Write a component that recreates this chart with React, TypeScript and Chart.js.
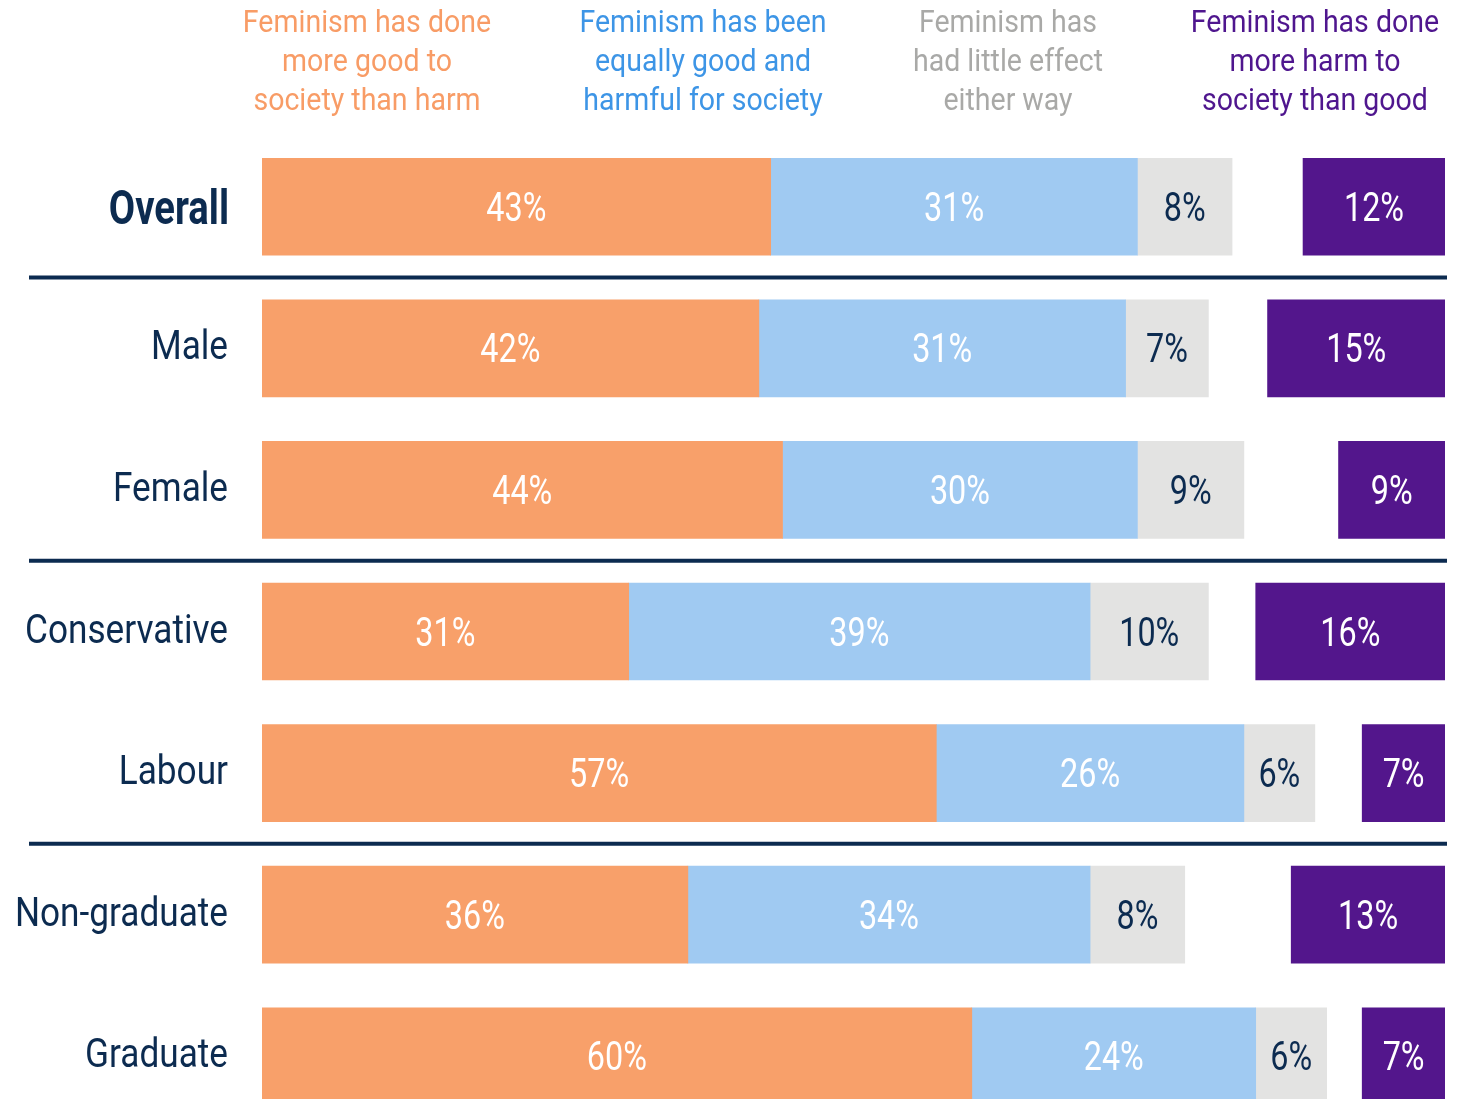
import { useEffect, useRef } from 'react';
import { Chart, registerables } from 'chart.js';

Chart.register(...registerables);

const categories = ['Overall', 'Male', 'Female', 'Conservative', 'Labour', 'Non-graduate', 'Graduate'];
const moreGood = [43, 42, 44, 31, 57, 36, 60];
const equallyGood = [31, 31, 30, 39, 26, 34, 24];
const littleEffect = [8, 7, 9, 10, 6, 8, 6];
const moreHarm = [12, 15, 9, 16, 7, 13, 7];
const seriesNames = [
  'Feminism has done more good to society than harm',
  'Feminism has been equally good and harmful for society',
  'Feminism has had little effect either way',
  'Feminism has done more harm to society than good',
];
const headerLines = [
  ['Feminism has done', 'more good to', 'society than harm'],
  ['Feminism has been', 'equally good and', 'harmful for society'],
  ['Feminism has', 'had little effect', 'either way'],
  ['Feminism has done', 'more harm to', 'society than good'],
];
const separatorsAfter = [0, 2, 4];
const scaleMax = 100;

const FONT = "Roboto, 'Liberation Sans', sans-serif";
const NAVY = '#0C2B50';
const barColors = ['#F8A06A', '#A0CAF2', '#E3E3E2', '#53168C'];
const headerColors = ['#F89C66', '#3D95E6', '#A9A9A7', '#4F168E'];
const labelColors = ['#FFFFFF', '#FFFFFF', NAVY, '#FFFFFF'];
const headerCenters = [367, 703, 1008, 1315];

const W = 1463;
const H = 1140;

function drawText(ctx: CanvasRenderingContext2D, text: string, x: number, y: number, font: string, sx: number, align: CanvasTextAlign, color: string) {
  ctx.save();
  ctx.translate(x, y);
  ctx.scale(sx, 1);
  ctx.font = font;
  ctx.textAlign = align;
  ctx.textBaseline = 'alphabetic';
  ctx.fillStyle = color;
  ctx.fillText(text, 0, 0);
  ctx.restore();
}

export default function App() {
  const ref = useRef<HTMLCanvasElement | null>(null);

  useEffect(() => {
    if (!ref.current) return;
    const gap = categories.map((_, i) => scaleMax - (moreGood[i] + equallyGood[i] + littleEffect[i] + moreHarm[i]));

    const mk = (label: string, data: number[], color: string, idx: number) => ({
      label,
      data,
      backgroundColor: color,
      borderWidth: 0,
      barThickness: 97,
      seriesIndex: idx,
    });

    const datasets: any[] = [
      mk(seriesNames[0], moreGood, barColors[0], 0),
      mk(seriesNames[1], equallyGood, barColors[1], 1),
      mk(seriesNames[2], littleEffect, barColors[2], 2),
      { label: 'gap', data: gap, backgroundColor: 'rgba(0,0,0,0)', borderWidth: 0, barThickness: 97, seriesIndex: -1 },
      mk(seriesNames[3], moreHarm, barColors[3], 3),
    ];

    const overlay = {
      id: 'overlay',
      afterDatasetsDraw(chart: any) {
        const ctx: CanvasRenderingContext2D = chart.ctx;
        // value labels
        chart.data.datasets.forEach((ds: any, di: number) => {
          if (ds.seriesIndex < 0) return;
          const meta = chart.getDatasetMeta(di);
          meta.data.forEach((el: any, i: number) => {
            const p = el.getCenterPoint();
            drawText(ctx, `${ds.data[i]}%`, p.x, p.y + 14, `40px ${FONT}`, 0.81, 'center', labelColors[ds.seriesIndex]);
          });
        });
        // category labels
        const ys = chart.scales.y;
        chart.data.labels.forEach((lab: string, i: number) => {
          const y = ys.getPixelForValue(i);
          if (i === 0) drawText(ctx, lab, 229, y + 17.5, `bold 49px ${FONT}`, 0.78, 'right', NAVY);
          else drawText(ctx, lab, 228, y + 11, `40px ${FONT}`, 0.88, 'right', NAVY);
        });
        // separators
        ctx.save();
        ctx.strokeStyle = NAVY;
        ctx.lineWidth = 4;
        separatorsAfter.forEach((i) => {
          const y = (ys.getPixelForValue(i) + ys.getPixelForValue(i + 1)) / 2;
          ctx.beginPath();
          ctx.moveTo(29, y);
          ctx.lineTo(1447, y);
          ctx.stroke();
        });
        ctx.restore();
        // headers
        headerLines.forEach((lines, c) => {
          lines.forEach((t, j) => {
            drawText(ctx, t, headerCenters[c], 32 + j * 39, `31px ${FONT}`, 0.92, 'center', headerColors[c]);
          });
        });
      },
    };

    const chart = new Chart(ref.current, {
      type: 'bar',
      data: { labels: categories, datasets },
      options: {
        indexAxis: 'y',
        responsive: false,
        animation: false,
        layout: { padding: { top: 136, bottom: 13, left: 0, right: 18 } },
        plugins: { legend: { display: false }, tooltip: { enabled: false } },
        scales: {
          x: { stacked: true, min: 0, max: scaleMax, display: false },
          y: {
            stacked: true,
            grid: { display: false, drawTicks: false },
            border: { display: false },
            ticks: { display: false },
            afterFit: (s: any) => {
              s.width = 262;
              s.paddingTop = 0;
              s.paddingBottom = 0;
            },
          },
        },
      } as any,
      plugins: [overlay],
    });
    return () => chart.destroy();
  }, []);

  return (
    <div style={{ position: 'fixed', left: 0, top: 0, width: W, height: 1099, overflow: 'hidden', background: '#fff' }}>
      <canvas ref={ref} width={W} height={H} style={{ width: W, height: H, display: 'block' }} />
    </div>
  );
}
